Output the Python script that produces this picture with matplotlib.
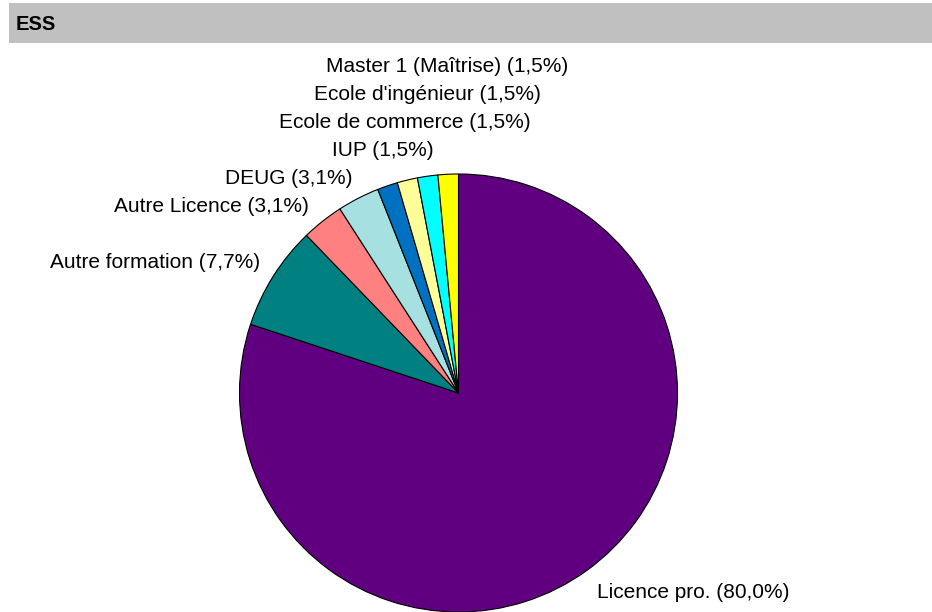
import matplotlib.pyplot as plt

# data
labels = ["Licence pro.", "Autre formation", "Autre Licence", "DEUG", "IUP",
          "Ecole de commerce", "Ecole d'ingénieur", "Master 1 (Maîtrise)"]
pct = [80.0, 7.7, 3.1, 3.1, 1.5, 1.5, 1.5, 1.5]
pct_text = ["80,0%", "7,7%", "3,1%", "3,1%", "1,5%", "1,5%", "1,5%", "1,5%"]
colors = ["#600080", "#008080", "#FF8080", "#A6E0E0", "#0070C0",
          "#FFFF99", "#00FFFF", "#FFFF00"]

# label centres in pixels (x, y)
label_pos = [(693, 592), (155.5, 263), (211.5, 207), (289, 179), (383, 151),
             (404.5, 123), (427.5, 95), (447.5, 67)]

plt.rcParams['font.family'] = ['Liberation Sans', 'DejaVu Sans']

W, H = 932, 612
fig = plt.figure(figsize=(W / 100, H / 100), dpi=100)

# title bar
bar = fig.add_axes([9 / W, 1 - 43 / H, 1 - 9 / W, 40 / H])
bar.set_facecolor("#C0C0C0")
bar.set_xticks([])
bar.set_yticks([])
for s in bar.spines.values():
    s.set_visible(False)
fig.text(16 / W, 1 - 24 / H, "ESS", fontsize=14.5, fontweight="bold",
         va="center", ha="left")

cx, cy, r = 458.5, 393, 219
ax = fig.add_axes([(cx - r) / W, (H - cy - r) / H, 2 * r / W, 2 * r / H])
ax.pie(pct, colors=colors, startangle=90, counterclock=False,
       wedgeprops=dict(edgecolor="black", linewidth=0.8))
ax.set_xlim(-1, 1)
ax.set_ylim(-1, 1)
ax.axis("off")

for lab, p, (px, py) in zip(labels, pct_text, label_pos):
    ax.text((px - cx) / r, (cy - py) / r, "{} ({})".format(lab, p),
            fontsize=15, ha="center", va="center", clip_on=False)

fig.savefig("out.png", dpi=100)
